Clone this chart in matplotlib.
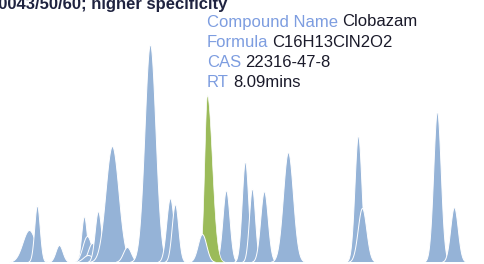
import numpy as np
import matplotlib
matplotlib.use("Agg")
import matplotlib.pyplot as plt

# retention times (min), peak heights (arb. units), peak widths (min)
rt = [0.97, 1.29, 2.17, 3.17, 3.29, 3.49, 3.33, 3.73, 4.29, 4.89, 5.81,
      6.61, 6.81, 7.89, 8.85, 9.61, 9.89, 10.37, 11.33, 14.13, 14.29, 17.29, 17.97]
height = [32, 57, 17, 46, 26, 19, 7, 51, 116, 15, 218,
          64, 58, 28, 72, 101, 74, 71, 110, 127, 54, 151, 55]
width = [0.26, 0.11, 0.14, 0.11, 0.18, 0.16, 0.20, 0.13, 0.26, 0.16, 0.22,
         0.15, 0.13, 0.17, 0.14, 0.13, 0.12, 0.15, 0.20, 0.14, 0.17, 0.15, 0.15]

# highlighted compound (Clobazam)
hit_rt = 8.09
hit_height = 167
hit_width_left = 0.11
hit_width_right = 0.20

title = "10043/50/60; higher specificity"
info_labels = ["Compound Name", "Formula", "CAS", "RT"]
info_values = ["Clobazam", "C16H13ClN2O2", "22316-47-8", "8.09mins"]

blue = "#95b3d7"
green = "#9bbb59"

fig = plt.figure(figsize=(4.84, 2.64), dpi=100)
ax = fig.add_axes([0, 0, 1, 1])
t = np.linspace(-0.5, 20, 4000)

for r, h, w in zip(rt, height, width):
    y = h * np.exp(-0.5 * ((t - r) / w) ** 2)
    ax.fill_between(t, 0, y, where=y > 0.3, facecolor=blue, edgecolor="white", linewidth=0.7)

sig = np.where(t < hit_rt, hit_width_left, hit_width_right)
yg = hit_height * np.exp(-0.5 * ((t - hit_rt) / sig) ** 2)
ax.fill_between(t, 0, yg, where=yg > 0.3, facecolor=green, edgecolor="white", linewidth=0.5, zorder=1)
# small peak drawn in front of the green one
r0, h0, w0 = rt[13], height[13], width[13]
y0 = h0 * np.exp(-0.5 * ((t - r0) / w0) ** 2)
ax.fill_between(t, 0, y0, where=y0 > 0.3, facecolor=blue, edgecolor="white", linewidth=0.7, zorder=2)

ax.set_xlim(-0.19, 19.17)
ax.set_ylim(-2, 262)
ax.axis("off")

fig.text(227 / 484, 1 - 9 / 264, title, ha="right", va="baseline",
         fontsize=12, fontweight="bold", color="#1f2340", family="Liberation Sans")

fig.canvas.draw()
renderer = fig.canvas.get_renderer()
for i, (lab, val) in enumerate(zip(info_labels, info_values)):
    yy = 1 - (22 + 20.3 * i) / 264
    tx = fig.text(207 / 484, yy, lab, ha="left", va="center", fontsize=12,
                  color="#7d9de0", family="Liberation Sans")
    bb = tx.get_window_extent(renderer)
    fig.text((bb.x1 + 4) / 484, yy, val, ha="left", va="center", fontsize=12,
             color="#1a1a2a", family="Liberation Sans")

fig.savefig("out.png", dpi=100)
